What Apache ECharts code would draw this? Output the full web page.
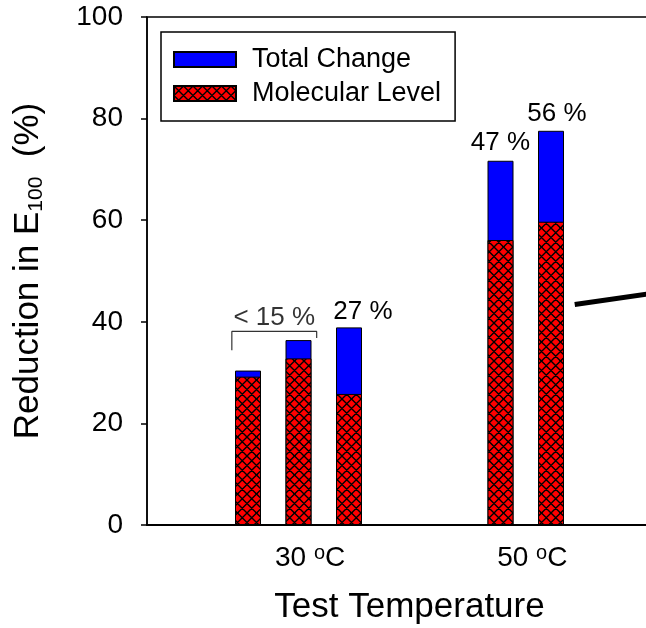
<!DOCTYPE html>
<html>
<head>
<meta charset="utf-8">
<script src="https://cdn.jsdelivr.net/npm/echarts@6/dist/echarts.min.js"></script>
<style>
html, body { margin: 0; padding: 0; background: #fff; }
#chart { width: 646px; height: 628px; }
</style>
</head>
<body>
<div id="chart"></div>
<script>
// Bar positions along the temperature axis (three at 30 °C, two at 50 °C)
const barPositions = [2, 3, 4, 7, 8];
// Reduction in E100 (%)
const totalChange = [30.4, 36.4, 38.9, 71.7, 77.6];
const molecularLevel = [29.2, 32.8, 25.8, 56.1, 59.7];
// Annotations above the bars
const changeLabels = ['', '', '27 %', '47 %', '56 %'];
const bracketText = '< 15 %';
const bracketPath = [[1.68, 34.4], [1.68, 38.1], [3.36, 38.1], [3.36, 36.8]];
const bracketLabelAt = [2.52, 38.1];
const pointerLine = [[8.47, 43.4], [10, 45.6]];
// Temperature groups
const temperatureNames = ['30', '50'];
const temperaturePositions = [3.23, 7.63];
const yTickStep = 20;

// label nudges (pixels) for the percentage annotations
const labelShift = [[0, 0], [0, 0], [14, 0], [0, -2], [6, -1]];

// red fill with black cross-hatching
function crossHatch() {
  const s = 9.5;
  const n = 19;
  const c = document.createElement('canvas');
  c.width = n; c.height = n;
  const g = c.getContext('2d');
  g.fillStyle = '#ff0000';
  g.fillRect(0, 0, n, n);
  g.strokeStyle = '#000';
  g.lineWidth = 1.4;
  g.beginPath();
  for (let k = -2; k <= 2; k++) {
    g.moveTo(k * s - 1, -1); g.lineTo(k * s + n + 1, n + 1);
    g.moveTo(n - k * s + 1, -1); g.lineTo(-k * s - 1, n + 1);
  }
  g.stroke();
  return c;
}

const chart = echarts.init(document.getElementById('chart'), null, { renderer: 'canvas' });
const font = 'Liberation Sans, Arial, sans-serif';

chart.setOption({
  animation: false,
  textStyle: { fontFamily: font, color: '#000' },
  grid: {
    left: 147, top: 17, width: 505, height: 508,
    outerBoundsMode: 'none',
    containLabel: false,
    show: true, borderColor: '#000', borderWidth: 1.5, backgroundColor: 'transparent'
  },
  legend: {
    data: ['Total Change', 'Molecular Level'],
    orient: 'vertical',
    left: 161, top: 32,
    icon: 'rect',
    itemWidth: 62, itemHeight: 15, itemGap: 7,
    padding: [14, 14, 14, 12],
    borderColor: '#000', borderWidth: 1.5,
    textStyle: { fontFamily: font, fontSize: 27, color: '#000', padding: [0, 0, 0, 11] }
  },
  xAxis: {
    type: 'value', min: 0, max: 10,
    splitLine: { show: false },
    axisTick: { show: false },
    axisLine: { show: true, onZero: false, lineStyle: { color: '#000', width: 2 } },
    axisLabel: {
      customValues: temperaturePositions,
      margin: 18,
      formatter: function (v) {
        const i = temperaturePositions.indexOf(v);
        return '{n|' + temperatureNames[i] + ' }{sup|o}{n|C}';
      },
      rich: {
        n: { fontFamily: font, fontSize: 28, color: '#000', lineHeight: 30 },
        sup: { fontFamily: font, fontSize: 20, color: '#000', lineHeight: 20, verticalAlign: 'top' }
      }
    },
    name: 'Test Temperature',
    nameLocation: 'middle',
    nameGap: 65,
    nameTextStyle: { fontFamily: font, fontSize: 35, color: '#000', padding: [0, 0, 0, 20] }
  },
  yAxis: {
    type: 'value', min: 0, max: 100, interval: yTickStep,
    splitLine: { show: false },
    axisLine: { show: true, lineStyle: { color: '#000', width: 1.5 } },
    axisTick: { show: true, inside: false, length: 6, lineStyle: { color: '#000', width: 1.5 } },
    axisLabel: { fontFamily: font, fontSize: 28, color: '#000', margin: 24 },
    name: '{m|Reduction in E}{s|100}{m|  (%)}',
    nameLocation: 'middle',
    nameGap: 100,
    nameTextStyle: {
      rich: {
        m: { fontFamily: font, fontSize: 35, color: '#000', lineHeight: 37 },
        s: { fontFamily: font, fontSize: 21, color: '#000', lineHeight: 21, verticalAlign: 'bottom' }
      }
    }
  },
  series: [
    {
      name: 'Total Change',
      type: 'bar',
      barWidth: 26,
      barGap: '-100%',
      itemStyle: { color: '#0000ff', borderColor: '#000', borderWidth: 1 },
      label: {
        show: true, position: 'top', distance: 3,
        fontFamily: font, fontSize: 26, color: '#000',
        formatter: function (p) { return changeLabels[p.dataIndex]; }
      },
      data: barPositions.map(function (x, i) {
        return { value: [x, totalChange[i]], label: { offset: labelShift[i] } };
      })
    },
    {
      name: 'Molecular Level',
      type: 'bar',
      barWidth: 26,
      barGap: '-100%',
      itemStyle: {
        color: { image: crossHatch(), repeat: 'repeat' },
        borderColor: '#000', borderWidth: 1
      },
      data: barPositions.map(function (x, i) { return [x, molecularLevel[i]]; })
    },
    {
      name: 'bracket',
      type: 'line',
      symbol: 'none',
      silent: true,
      lineStyle: { color: '#333', width: 1.2 },
      data: bracketPath
    },
    {
      name: 'bracketLabel',
      type: 'scatter',
      symbolSize: 0,
      silent: true,
      label: {
        show: true, position: 'top', distance: 1,
        fontFamily: font, fontSize: 26, color: '#000',
        formatter: function () { return bracketText; }
      },
      data: [bracketLabelAt]
    },
    {
      name: 'pointer',
      type: 'line',
      symbol: 'none',
      silent: true,
      clip: false,
      lineStyle: { color: '#000', width: 5 },
      data: pointerLine
    }
  ]
});
</script>
</body>
</html>
